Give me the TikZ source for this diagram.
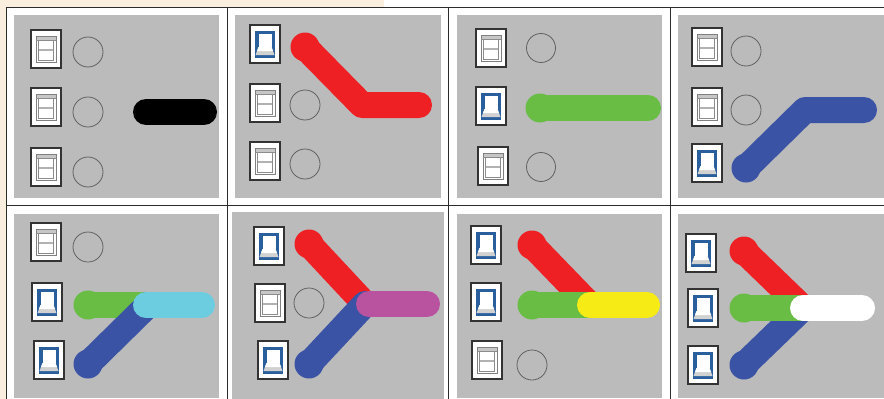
\documentclass[tikz,border=0pt]{standalone}
\definecolor{cream}{HTML}{FAEFDF}
\definecolor{panel}{HTML}{BBBBBB}
\definecolor{rd}{HTML}{EE2024}
\definecolor{gn}{HTML}{69BD45}
\definecolor{bl}{HTML}{3A53A4}
\definecolor{cy}{HTML}{6DCDE0}
\definecolor{pu}{HTML}{B9529F}
\definecolor{ye}{HTML}{F6EB14}
\definecolor{swb}{HTML}{2A5F9E}
\definecolor{rule}{HTML}{2B2B2B}
\tikzset{
  panelbox/.style={fill=panel,draw=none},
  lamp/.style={draw=black!62,line width=0.8pt},
  beam/.style={line width=26pt,line cap=round,line join=round},
  grid line/.style={draw=rule,line width=1pt},
  sw frame/.style={fill=white,draw=black!80,line width=1.5pt},
}
\newcommand{\bulb}[3]{\fill[#1] (#2,#3) circle (14.5);}
\newcommand{\swoff}[2]{%
  \begin{scope}[shift={(#1,#2)}]
    \draw[sw frame] (-15,-19) rectangle (15,19);
    \fill[black!22] (-10,-13) rectangle (10,-8);
    \draw[black!50,line width=.7pt] (-10,-13) rectangle (10,13);
    \draw[black!45,line width=.6pt] (-7.5,-9) rectangle (7.5,11);
    \fill[black!30] (-7,0) rectangle (7,2);
    \draw[black!45,line width=.6pt] (-10,-9) -- (10,-9);
  \end{scope}}
\newcommand{\swon}[2]{%
  \begin{scope}[shift={(#1,#2)}]
    \draw[sw frame] (-15,-19) rectangle (15,19);
    \fill[swb] (-10,-13.5) rectangle (10,13.5);
    \fill[white] (-6.5,-10) rectangle (6.5,3);
    \fill[black!18] (-6.5,3) -- (6.5,3) -- (9.5,11) -- (-9.5,11) -- cycle;
    \fill[white] (-6.5,3) -- (6.5,3) -- (8,7) -- (-8,7) -- cycle;
  \end{scope}}
\begin{document}
\begin{tikzpicture}[x=1pt,y=-1pt]
\useasboundingbox (0,0) rectangle (884,399);
\clip (0,0) rectangle (884,399);
\fill[white] (0,0) rectangle (884,399);
\fill[cream] (0,0) rectangle (384,7);
\fill[cream] (0,0) rectangle (6,399);
\fill[white] (6,7) rectangle (884,399);
% panels
\foreach \a/\b/\c/\d in {14/15/219/198,235/15/441/198,457/15/662/198,678/15/884/198,
  14/214/219/398,232/212/444/399,457/214/662/398,678/214/884/398}
  \fill[panelbox] (\a,\b) rectangle (\c,\d);
% grid
\draw[grid line] (6,7) -- (884,7);
\draw[grid line] (6,205.5) -- (884,205.5);
\foreach \x in {6.5,227.5,448.5,670.5} \draw[grid line] (\x,7) -- (\x,399);
% 1
\swoff{46}{49}\swoff{46}{107}\swoff{46}{167}
\foreach \x/\y in {88/52,88/112,88/172} \draw[lamp] (\x,\y) circle (15);
\draw[beam,black] (146,112) -- (204,112);
% 2
\swon{265}{44}\swoff{265}{103}\swoff{265}{161}
\foreach \x/\y in {305/105,305/164} \draw[lamp] (\x,\y) circle (15);
\bulb{rd}{305}{47}
\draw[beam,rd] (305,47) -- (362,105) -- (419,105);
% 3
\swoff{491}{48}\swon{491}{106}\swoff{493}{166}
\foreach \x/\y in {541/48,541/167} \draw[lamp] (\x,\y) circle (14.5);
\bulb{gn}{540}{108}
\draw[beam,gn] (540,108) -- (648,108);
% 4
\swoff{707}{47}\swoff{707}{107}\swon{707}{163}
\foreach \x/\y in {746/51,746/110} \draw[lamp] (\x,\y) circle (15);
\bulb{bl}{746}{168}
\draw[beam,bl] (746,168) -- (805,110) -- (864,110);
% 5
\swoff{46}{242}\swon{47}{302}\swon{49}{360}
\draw[lamp] (88,247) circle (15);
\bulb{gn}{88}{305}
\bulb{bl}{88}{364}
\draw[beam,gn] (88,305) -- (150,305);
\draw[beam,bl] (88,364) -- (148,305);
\draw[beam,cy] (146,305) -- (202,305);
% 6
\swon{269}{246}\swoff{270}{303}\swon{273}{360}
\draw[lamp] (309,303) circle (15);
\bulb{rd}{309}{244}
\bulb{bl}{309}{364}
\draw[beam,rd] (309,244) -- (365,304);
\draw[beam,bl] (309,364) -- (365,304);
\draw[beam,pu] (369,304) -- (427,304);
% 7
\swon{486}{245}\swon{486}{302}\swoff{487}{360}
\draw[lamp] (532,365) circle (15);
\bulb{rd}{532}{245}
\bulb{gn}{532}{305}
\draw[beam,rd] (532,245) -- (590,305);
\draw[beam,gn] (532,305) -- (590,305);
\draw[beam,ye] (590,305) -- (647,305);
% 8
\swon{701}{253}\swon{703}{308}\swon{703}{365}
\bulb{rd}{744}{251}
\bulb{gn}{744}{308}
\bulb{bl}{744}{365}
\draw[beam,rd] (744,251) -- (803,308);
\draw[beam,bl] (744,365) -- (803,308);
\draw[beam,gn] (744,308) -- (803,308);
\draw[beam,white] (803,308) -- (862,308);
\end{tikzpicture}
\end{document}
